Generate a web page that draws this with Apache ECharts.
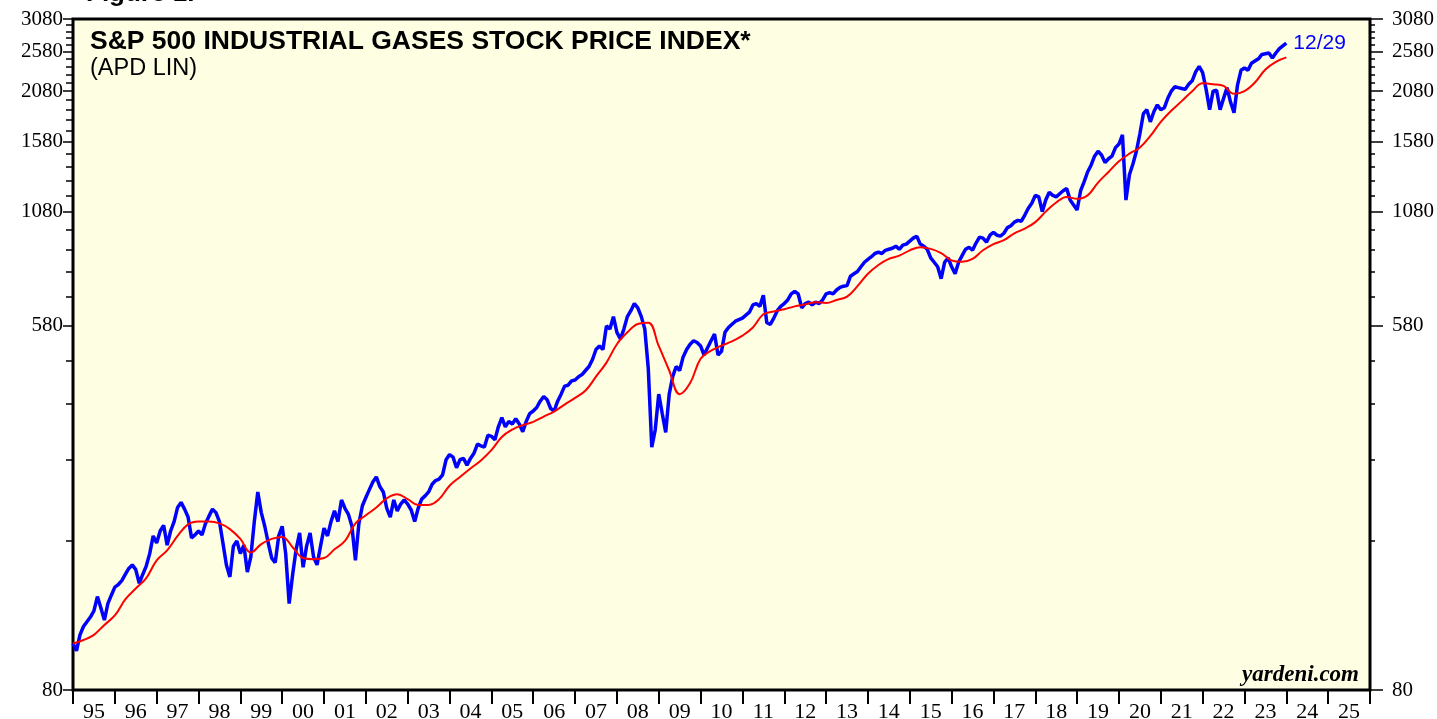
<!DOCTYPE html>
<html>
<head>
<meta charset="utf-8">
<script src="https://cdn.jsdelivr.net/npm/echarts@6.0.0/dist/echarts.min.js"></script>
<style>
  html, body { margin: 0; padding: 0; background: #fff; }
  #chart { width: 1437px; height: 719px; }
</style>
</head>
<body>
<div id="chart"></div>
<script>
// 年份标签 (x 轴)
const yearLabels = ['95', '96', '97', '98', '99', '00', '01', '02', '03', '04', '05', '06', '07', '08', '09',
  '10', '11', '12', '13', '14', '15', '16', '17', '18', '19', '20', '21', '22', '23', '24', '25'];

// y 轴刻度 (对数刻度)
const minorTicks = [80, 180, 280, 380, 480, 580, 680, 780, 880, 980, 1080, 1180, 1280, 1380, 1480, 1580,
  1680, 1780, 1880, 1980, 2080, 2180, 2280, 2380, 2480, 2580, 2680, 2780, 2880, 2980, 3080];
const majorTicks = [80, 580, 1080, 1580, 2080, 2580, 3080];

// 指数 (月度, 1995年1月起)
const indexValues = [
  103, 99, 108, 113, 116, 119, 123, 133, 125, 117, 128, 134,
  140, 142, 145, 150, 155, 158, 154, 143, 150, 157, 168, 185,
  178, 190, 196, 176, 190, 200, 216, 222, 214, 205, 183, 186,
  190, 186, 198, 206, 214, 210, 200, 178, 158, 148, 175, 180,
  168, 176, 152, 165, 200, 235, 210, 195, 178, 164, 160, 185,
  195, 168, 128, 150, 172, 188, 156, 175, 188, 165, 158, 175,
  193, 185, 200, 212, 200, 225, 215, 208, 195, 162, 198, 218,
  228, 238, 248, 255, 242, 235, 215, 205, 225, 212, 220, 225,
  220, 213, 200, 215, 226, 230, 235, 245, 250, 252, 258, 280,
  288, 284, 268, 280, 282, 272, 282, 290, 305, 302, 300, 320,
  318, 312, 335, 352, 335, 345, 340, 350, 340, 326, 345, 360,
  365, 372, 385, 395, 388, 370, 365, 385, 400, 418, 420, 430,
  432, 440, 445, 455, 465, 483, 510, 520, 510, 580, 570, 610,
  560, 540, 570, 610, 630, 655, 640, 610, 570, 460, 300, 330,
  400, 360, 325, 400, 440, 465, 455, 490, 510, 525, 535, 530,
  520, 495, 515, 535, 555, 495, 505, 560, 575, 585, 595, 600,
  605, 615, 625, 650, 655, 645, 685, 590, 585, 605, 630, 645,
  655, 668, 690, 700, 690, 640, 655, 660, 650, 660, 655, 668,
  690, 695, 690, 705, 715, 720, 722, 760, 770, 780, 800, 820,
  833, 845, 860, 866, 860, 875, 880, 885, 895, 880, 900, 905,
  920, 935, 945, 905, 895, 880, 840, 820, 800, 750, 820, 840,
  800, 770, 820, 850, 880, 890, 875, 910, 940, 935, 915, 950,
  965, 950, 945, 960, 990, 1000, 1020, 1030, 1025, 1060, 1100, 1130,
  1180, 1170, 1080, 1150, 1200, 1180, 1170, 1190, 1210, 1225, 1150, 1120,
  1090, 1210, 1270, 1340, 1390, 1460, 1500, 1470, 1410, 1440, 1460, 1530,
  1560, 1640, 1150, 1320, 1400, 1500, 1650, 1840, 1880, 1760, 1860, 1930,
  1880, 1900, 2000, 2080, 2130, 2120, 2110, 2100, 2160, 2200, 2310, 2380,
  2300, 2100, 1880, 2080, 2090, 1880, 2000, 2120, 1960, 1850, 2150, 2330,
  2360, 2330, 2420, 2450, 2480, 2540, 2550, 2560, 2490, 2560, 2620, 2660,
  2700
];

// 移动平均 (季度, 1995年起)
const avgValues = [
  103, 105, 108, 114, 120, 131, 139, 147, 162, 171, 185, 197,
  200, 200, 198, 192, 182, 169, 177, 182, 184, 174, 164, 163,
  164, 172, 180, 198, 207, 216, 227, 232, 226, 219, 219, 226,
  243, 255, 267, 279, 295, 317, 330, 338, 344, 354, 364, 378,
  392, 408, 440, 475, 525, 560, 586, 590, 520, 455, 400, 425,
  485, 507, 521, 533, 550, 575, 618, 627, 635, 645, 652, 660,
  657, 668, 680, 720, 770, 808, 835, 850, 875, 890, 882, 862,
  828, 822, 835, 875, 905, 925, 960, 985, 1020, 1080, 1135, 1170,
  1158, 1180, 1265, 1340, 1420, 1480, 1530, 1630, 1760, 1870, 1970, 2080,
  2170, 2160, 2140, 2050, 2080, 2180, 2340, 2440, 2500
];

const indexData = indexValues.map((v, i) => [1995 + i / 12, Math.log(v)]);
const avgData = avgValues.map((v, i) => [1995 + i / 4, Math.log(v)]);

const serif = '"Liberation Serif", "DejaVu Serif", serif';
const sans = '"Liberation Sans", Arial, sans-serif';

function yAxisDef(position, values, tickLen, withLabels) {
  return {
    type: 'value',
    position: position,
    min: Math.log(80),
    max: Math.log(3080),
    axisLine: { show: false },
    splitLine: { show: false },
    axisTick: {
      show: true,
      length: tickLen,
      customValues: values.map(v => Math.log(v)),
      lineStyle: { color: '#000', width: 1.5 }
    },
    axisLabel: {
      show: withLabels,
      customValues: majorTicks.map(v => Math.log(v)),
      formatter: v => String(Math.round(Math.exp(v))),
      color: '#000',
      fontFamily: serif,
      fontSize: 21,
      margin: position === 'left' ? 10 : 22
    }
  };
}

const chart = echarts.init(document.getElementById('chart'));
chart.setOption({
  animation: false,
  backgroundColor: '#fff',
  title: {
    text: 'S&P 500 INDUSTRIAL GASES STOCK PRICE INDEX*',
    subtext: '(APD LIN)',
    left: 85,
    top: 23,
    itemGap: 2,
    textStyle: { fontFamily: sans, fontSize: 26.5, fontWeight: 'bold', color: '#000' },
    subtextStyle: { fontFamily: sans, fontSize: 23.5, color: '#000' }
  },
  grid: {
    left: 73,
    right: 67,
    top: 19,
    bottom: 29,
    containLabel: false,
    outerBoundsMode: 'none',
    show: true,
    backgroundColor: '#FEFEE3',
    borderColor: '#000',
    borderWidth: 3
  },
  xAxis: [
    {
      type: 'value',
      min: 1995,
      max: 2026,
      show: false
    },
    {
      type: 'category',
      data: yearLabels,
      position: 'bottom',
      boundaryGap: true,
      axisLine: { show: false },
      axisTick: { show: true, interval: 0, length: 14, lineStyle: { color: '#000', width: 2 } },
      axisLabel: { interval: 0, margin: 11, color: '#000', fontFamily: serif, fontSize: 22 },
      splitLine: { show: false }
    }
  ],
  yAxis: [
    yAxisDef('left', minorTicks, 7, true),
    yAxisDef('left', majorTicks, 10, false),
    yAxisDef('right', minorTicks, 5, true),
    yAxisDef('right', majorTicks, 13, false)
  ],
  series: [
    {
      name: 'avg',
      type: 'line',
      xAxisIndex: 0,
      yAxisIndex: 0,
      data: avgData,
      showSymbol: false,
      smooth: 0.4,
      lineStyle: { color: '#FF0000', width: 2 },
      z: 3
    },
    {
      name: 'index',
      type: 'line',
      xAxisIndex: 0,
      yAxisIndex: 0,
      data: indexData,
      showSymbol: false,
      lineStyle: { color: '#0000FF', width: 3.5 },
      endLabel: {
        show: true,
        formatter: '12/29',
        color: '#0000FF',
        fontFamily: sans,
        fontSize: 21,
        distance: 7
      },
      z: 2
    }
  ],
  graphic: [
    {
      type: 'text',
      left: 86,
      top: -19,
      style: { text: 'Figure 1.', fontFamily: sans, fontSize: 26, fontWeight: 'bold', fill: '#000' }
    },
    {
      type: 'text',
      right: 78,
      top: 664,
      style: { text: 'yardeni.com', fontFamily: serif, fontSize: 23, fontWeight: 'bold', fontStyle: 'italic', fill: '#000' }
    }
  ]
});
</script>
</body>
</html>
